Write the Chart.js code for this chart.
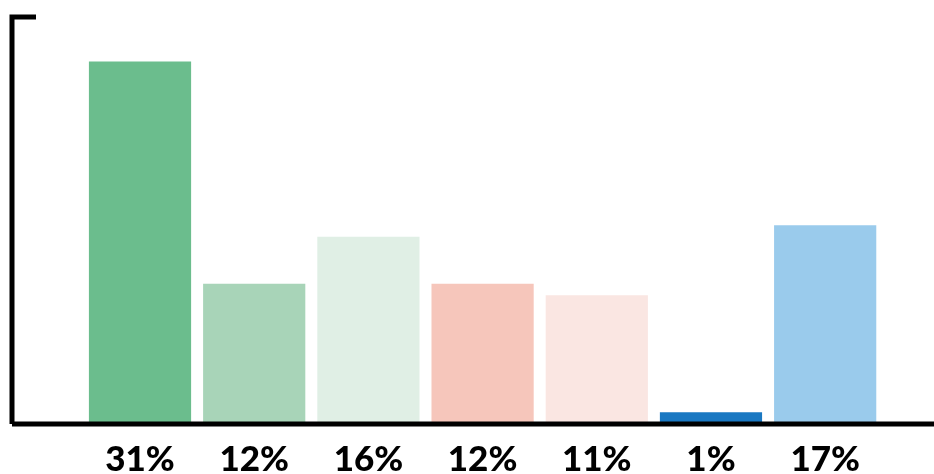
<!DOCTYPE html>
<html>
<head>
<meta charset="utf-8">
<script src="https://cdn.jsdelivr.net/npm/chart.js@4/dist/chart.umd.min.js"></script>
<style>
	html, body { margin: 0; padding: 0; background: #fff; overflow: hidden; }
	#wrap { width: 934px; height: 495px; }
</style>
</head>
<body>
<div id="wrap"><canvas id="chart"></canvas></div>
<script>
const values = [31, 12, 16, 12, 11, 1, 17];
const tickLabels = ['31%', '12%', '16%', '12%', '11%', '1%', '17%'];
const barColors = ['#6bbd8d', '#a8d4b8', '#e0efe5', '#f6c6bb', '#fae6e2', '#1a78c2', '#9acbec'];

const ctx = document.querySelector("#chart").getContext("2d");

// axis lines + the small top tick
const axisLines = {
	id: 'axisLines',
	afterDraw(chart) {
		const { ctx, chartArea, scales } = chart;
		const top = chartArea.top;
		const bottom = scales.y.getPixelForValue(0);
		const left = chartArea.left;
		ctx.save();
		ctx.strokeStyle = '#000';
		ctx.lineWidth = 5;
		ctx.beginPath();
		ctx.moveTo(left, bottom);
		ctx.lineTo(chart.width, bottom);
		ctx.moveTo(left, bottom);
		ctx.lineTo(left, top - 2.5);
		ctx.moveTo(left - 2.5, top);
		ctx.lineTo(left + 24, top);
		ctx.stroke();
		ctx.restore();
	}
};

const chart = new Chart(ctx, {
	type: 'bar',
	data: {
		datasets: [{
			data: values.map((v, i) => ({ x: i, y: v })),
			backgroundColor: barColors,
			barPercentage: 0.895,
			categoryPercentage: 1
		}]
	},
	options: {
		responsive: true,
		maintainAspectRatio: false,
		animation: false,
		layout: { padding: { left: 12, top: 17, right: 0, bottom: 0 } },
		scales: {
			x: {
				type: 'linear',
				offset: false,
				min: -1.121,
				max: 6.953,
				afterBuildTicks: scale => {
					scale.ticks = values.map((v, i) => ({ value: i }));
				},
				grid: { display: false, drawTicks: false },
				border: { display: false },
				ticks: {
					padding: 18,
					color: '#000',
					maxRotation: 0,
					autoSkip: false,
					font: { family: 'Lato', size: 35, weight: '900', lineHeight: 1 },
					callback: (value) => tickLabels[value]
				}
			},
			y: {
				display: false,
				min: 0,
				max: 34.8
			}
		},
		plugins: {
			legend: { display: false },
			tooltip: { enabled: false }
		}
	},
	plugins: [axisLines]
});
</script>
</body>
</html>
